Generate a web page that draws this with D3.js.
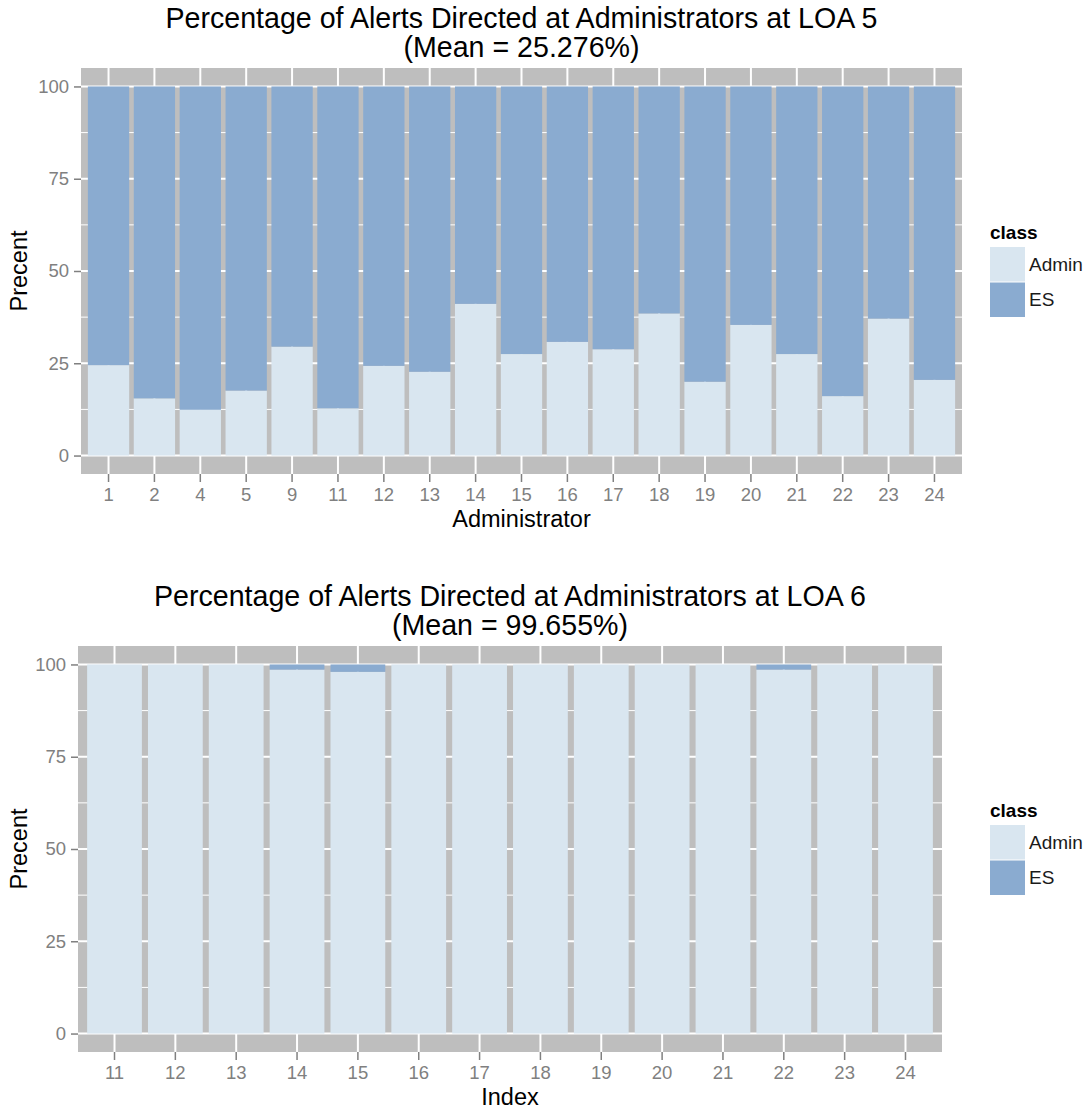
<!DOCTYPE html>
<html>
<head>
<meta charset="utf-8">
<script src="https://cdn.jsdelivr.net/npm/d3@7"></script>
<style>
  body { margin: 0; background: #fff; }
  svg { display: block; font-family: "Liberation Sans", Arial, Helvetica, sans-serif; }
</style>
</head>
<body>
<svg id="chart" width="1089" height="1111"></svg>
<script>
// ---- Data ----
const topCategories = ["1","2","4","5","9","11","12","13","14","15","16","17","18","19","20","21","22","23","24"];
const topAdmin = [24.5,15.5,12.4,17.6,29.5,12.8,24.3,22.7,41.1,27.5,30.8,28.8,38.5,20.0,35.4,27.5,16.1,37.1,20.5];
const topES    = [75.5,84.5,87.6,82.4,70.5,87.2,75.7,77.3,58.9,72.5,69.2,71.2,61.5,80.0,64.6,72.5,83.9,62.9,79.5];

const bottomCategories = ["11","12","13","14","15","16","17","18","19","20","21","22","23","24"];
const bottomAdmin = [100,100,100,98.6,98.0,100,100,100,100,100,100,98.6,100,100];
const bottomES    = [0,0,0,1.4,2.0,0,0,0,0,0,0,1.4,0,0];

const classes = ["Admin","ES"];
const yTicks = [0,25,50,75,100];
const yMinor = [12.5,37.5,62.5,87.5];

const colors = { Admin: "#d9e6f0", ES: "#8aabd0" };
const panelBg = "#bebebe";
const tickColor = "#808080";

const svg = d3.select("#chart");

function drawChart(cfg) {
  const { left, right, top, bottom, categories, admin, es, title1, title2, xTitle } = cfg;
  const g = svg.append("g");

  const x = d3.scaleBand().domain(categories).range([left, right]).paddingInner(0.1).paddingOuter(0.15);
  const y = d3.scaleLinear().domain([-5, 105]).range([bottom, top]);

  // panel background
  g.append("rect").attr("x", left).attr("y", top).attr("width", right - left).attr("height", bottom - top).attr("fill", panelBg);

  // minor gridlines
  g.selectAll(".hminor").data(yMinor).join("line")
    .attr("x1", left).attr("x2", right).attr("y1", d => y(d)).attr("y2", d => y(d))
    .attr("stroke", "#ffffff").attr("stroke-width", 1);
  // major gridlines
  g.selectAll(".hmajor").data(yTicks).join("line")
    .attr("x1", left).attr("x2", right).attr("y1", d => y(d)).attr("y2", d => y(d))
    .attr("stroke", "#ffffff").attr("stroke-width", 2);
  g.selectAll(".vmajor").data(categories).join("line")
    .attr("y1", top).attr("y2", bottom)
    .attr("x1", d => x(d) + x.bandwidth() / 2).attr("x2", d => x(d) + x.bandwidth() / 2)
    .attr("stroke", "#ffffff").attr("stroke-width", 2);

  // stacked bars
  const rows = categories.map((c, i) => ({ cat: c, Admin: admin[i], ES: es[i] }));
  const stack = d3.stack().keys(classes)(rows);
  g.selectAll(".series").data(stack).join("g")
    .attr("fill", d => colors[d.key])
    .selectAll("rect").data(d => d).join("rect")
    .attr("x", d => x(d.data.cat))
    .attr("width", x.bandwidth())
    .attr("y", d => y(d[1]))
    .attr("height", d => y(d[0]) - y(d[1]));

  // y axis
  const yAxis = d3.axisLeft(y).tickValues(yTicks).tickSize(7).tickPadding(5);
  const ya = g.append("g").attr("transform", `translate(${left},0)`).call(yAxis);
  ya.select(".domain").remove();
  ya.selectAll("line").attr("stroke", tickColor).attr("stroke-width", 1.5);
  ya.selectAll("text").attr("fill", tickColor).attr("font-size", 18.5).attr("font-family", "Liberation Sans, Arial, sans-serif");

  // x axis
  const xAxis = d3.axisBottom(x).tickSize(8).tickPadding(6);
  const xa = g.append("g").attr("transform", `translate(0,${bottom})`).call(xAxis);
  xa.select(".domain").remove();
  xa.selectAll("line").attr("stroke", tickColor).attr("stroke-width", 1.5);
  xa.selectAll("text").attr("fill", tickColor).attr("font-size", 18.5).attr("font-family", "Liberation Sans, Arial, sans-serif");

  const cx = (left + right) / 2;
  // titles
  g.append("text").attr("x", cx).attr("y", top - 40).attr("text-anchor", "middle")
    .attr("font-size", 28.6).attr("fill", "#000").text(title1);
  g.append("text").attr("x", cx).attr("y", top - 11).attr("text-anchor", "middle")
    .attr("font-size", 28.6).attr("fill", "#000").text(title2);

  // axis titles
  g.append("text").attr("x", cx).attr("y", bottom + 53).attr("text-anchor", "middle")
    .attr("font-size", 23.5).attr("fill", "#000").text(xTitle);
  const cy = (top + bottom) / 2;
  g.append("text").attr("transform", `translate(27,${cy}) rotate(-90)`).attr("text-anchor", "middle")
    .attr("font-size", 23.5).attr("fill", "#000").text("Precent");

  // legend
  const lx = 990, keyH = 34.5, keyW = 35;
  const lTop = cy - 46;
  g.append("text").attr("x", lx).attr("y", lTop + 14).attr("font-size", 19).attr("font-weight", "bold")
    .attr("fill", "#000").text("class");
  const items = g.selectAll(".leg").data(classes).join("g")
    .attr("transform", (d, i) => `translate(${lx},${lTop + 22 + i * (keyH + 1)})`);
  items.append("rect").attr("width", keyW).attr("height", keyH).attr("fill", d => colors[d]);
  items.append("text").attr("x", keyW + 4).attr("y", keyH / 2 + 6.5).attr("font-size", 19)
    .attr("fill", "#1a1a1a").text(d => d);
}

drawChart({
  left: 81, right: 962, top: 68, bottom: 474,
  categories: topCategories, admin: topAdmin, es: topES,
  title1: "Percentage of Alerts Directed at Administrators at LOA 5",
  title2: "(Mean = 25.276%)",
  xTitle: "Administrator"
});

drawChart({
  left: 78, right: 942, top: 646, bottom: 1052,
  categories: bottomCategories, admin: bottomAdmin, es: bottomES,
  title1: "Percentage of Alerts Directed at Administrators at LOA 6",
  title2: "(Mean = 99.655%)",
  xTitle: "Index"
});
</script>
</body>
</html>
